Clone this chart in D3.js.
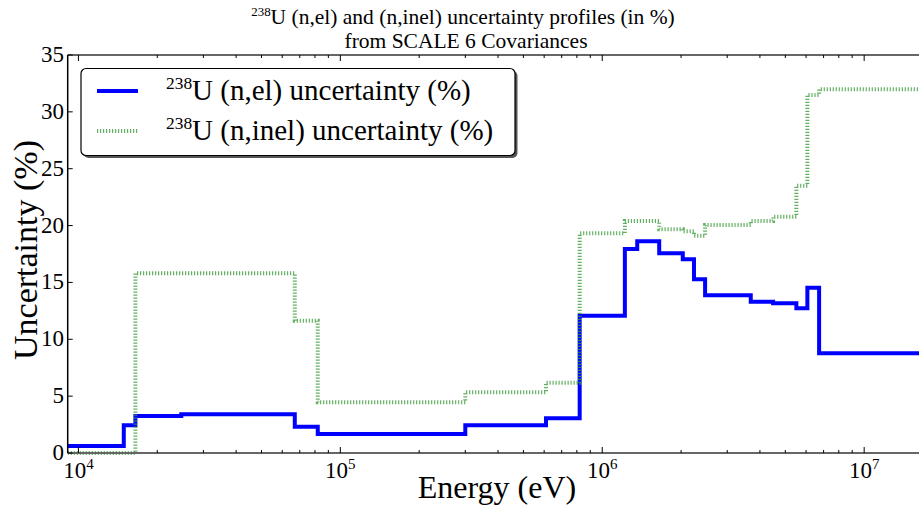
<html>
<head>
<script src="https://d3js.org/d3.v7.min.js"></script>
<style>
body { margin: 0; background: #fff; }
svg text { font-family: "Liberation Serif", "DejaVu Serif", serif; fill: #000; }
</style>
</head>
<body>
<svg width="919" height="511"></svg>
<script>

// energy group boundaries (eV) and the value of each group (%)
var energyEdges = [9.1e3, 1.49e4, 1.65e4, 2.47e4, 6.7e4, 8.2e4, 3.0e5, 6.1e5, 8.2e5, 1.22e6,
                   1.36e6, 1.65e6, 2.03e6, 2.24e6, 2.47e6, 3.69e6, 4.49e6, 5.51e6, 6.07e6, 6.73e6, 2e7];
var elUncert = [0.62, 2.43, 3.25, 3.40, 2.31, 1.66, 2.43, 3.05, 12.07, 17.94,
                18.62, 17.56, 17.03, 15.27, 13.87, 13.31, 13.17, 12.72, 14.54, 8.77];
var inelUncert = [0, 0, 15.80, 15.80, 11.64, 4.46, 5.34, 6.18, 19.32, 20.40,
                  20.40, 19.67, 19.50, 19.11, 20.05, 20.40, 20.78, 23.51, 31.49, 31.99];
var yTicks = [0, 5, 10, 15, 20, 25, 30, 35];
var xMajor = [1e4, 1e5, 1e6, 1e7];

var svg = d3.select("svg"),
    pLeft = 67.7, pRight = 943, pTop = 55, pBottom = 453;

var x = d3.scaleLog().domain([9.1e3, 2e7]).range([pLeft, pRight]),
    y = d3.scaleLinear().domain([0, 35]).range([pBottom, pTop]);

function steps(vals) {
  var pts = vals.map(function(v, i) { return [energyEdges[i], v]; });
  pts.push([energyEdges[energyEdges.length - 1], vals[vals.length - 1]]);
  return pts;
}

var line = d3.line()
    .curve(d3.curveStepAfter)
    .x(function(d) { return x(d[0]); })
    .y(function(d) { return y(d[1]); });

svg.append("defs").append("clipPath")
    .attr("id", "clip")
  .append("rect")
    .attr("x", pLeft).attr("y", pTop - 3)
    .attr("width", pRight - pLeft).attr("height", pBottom - pTop + 6);

// lines
var plot = svg.append("g").attr("clip-path", "url(#clip)");
plot.append("path")
    .datum(steps(elUncert))
    .attr("fill", "none")
    .attr("stroke", "#0000ff")
    .attr("stroke-width", 4)
    .attr("d", line);
plot.append("path")
    .datum(steps(inelUncert))
    .attr("fill", "none")
    .attr("stroke", "#3c9c3c")
    .attr("stroke-opacity", 0.8)
    .attr("stroke-width", 4)
    .attr("stroke-dasharray", "1.2,1.8")
    .attr("d", line);

// spines
svg.append("line").attr("x1", pLeft).attr("x2", 919).attr("y1", pTop).attr("y2", pTop)
    .attr("stroke", "#666").attr("stroke-width", 2);
svg.append("line").attr("x1", pLeft).attr("x2", 919).attr("y1", pBottom).attr("y2", pBottom)
    .attr("stroke", "#666").attr("stroke-width", 2);
svg.append("line").attr("x1", pLeft).attr("x2", pLeft).attr("y1", pTop).attr("y2", pBottom)
    .attr("stroke", "#000").attr("stroke-width", 1.5);

// x ticks (inward, bottom and top)
var xMinor = [];
[1e3, 1e4, 1e5, 1e6, 1e7].forEach(function(d) {
  for (var k = 2; k < 10; k++) {
    var v = k * d;
    if (v > 9.1e3 && v < 2e7) xMinor.push(v);
  }
});
var tickG = svg.append("g");
xMajor.forEach(function(v) {
  tickG.append("line").attr("x1", x(v)).attr("x2", x(v)).attr("y1", pBottom).attr("y2", pBottom - 6)
      .attr("stroke", "#000");
  tickG.append("line").attr("x1", x(v)).attr("x2", x(v)).attr("y1", pTop).attr("y2", pTop + 6)
      .attr("stroke", "#000");
});
xMinor.forEach(function(v) {
  tickG.append("line").attr("x1", x(v)).attr("x2", x(v)).attr("y1", pBottom).attr("y2", pBottom - 3)
      .attr("stroke", "#000");
  tickG.append("line").attr("x1", x(v)).attr("x2", x(v)).attr("y1", pTop).attr("y2", pTop + 3)
      .attr("stroke", "#000");
});

var xLab = svg.append("g").selectAll("text")
    .data(xMajor)
  .enter().append("text")
    .attr("x", function(d) { return x(d); })
    .attr("y", 478)
    .attr("text-anchor", "middle")
    .style("font-size", "23px");
xLab.append("tspan").text("10");
xLab.append("tspan")
    .attr("dy", -9)
    .style("font-size", "15px")
    .text(function(d) { return Math.round(Math.log10(d)); });

// y ticks
yTicks.forEach(function(v) {
  tickG.append("line").attr("x1", pLeft).attr("x2", pLeft + 5).attr("y1", y(v)).attr("y2", y(v))
      .attr("stroke", "#000");
});
svg.append("g").selectAll("text")
    .data(yTicks)
  .enter().append("text")
    .attr("x", 64)
    .attr("y", function(d) { return y(d) + 7; })
    .attr("text-anchor", "end")
    .style("font-size", "23px")
    .text(function(d) { return d; });

// axis labels
svg.append("text")
    .attr("x", 497)
    .attr("y", 498)
    .attr("text-anchor", "middle")
    .style("font-size", "32px")
    .text("Energy (eV)");
svg.append("text")
    .attr("transform", "translate(37,250) rotate(-90)")
    .attr("text-anchor", "middle")
    .style("font-size", "34px")
    .text("Uncertainty (%)");

// title
function isoText(sel, size, rest) {
  sel.append("tspan").attr("dy", -size * 0.38).style("font-size", (size * 0.6) + "px").text("238");
  sel.append("tspan").attr("dy", size * 0.38).style("font-size", size + "px").text(rest);
}
var t1 = svg.append("text").attr("x", 463).attr("y", 24).attr("text-anchor", "middle");
isoText(t1, 21.5, "U (n,el) and (n,inel) uncertainty profiles (in %)");
svg.append("text")
    .attr("x", 466).attr("y", 48)
    .attr("text-anchor", "middle")
    .style("font-size", "21.5px")
    .text("from SCALE 6 Covariances");

// legend
var legend = svg.append("g");
legend.append("rect")
    .attr("x", 83.5).attr("y", 71).attr("width", 434).attr("height", 87).attr("rx", 5)
    .attr("fill", "#555");
legend.append("rect")
    .attr("x", 81).attr("y", 68.5).attr("width", 434).attr("height", 87).attr("rx", 5)
    .attr("fill", "#fff").attr("stroke", "#000").attr("stroke-width", 1.2);

var legendItems = [
  {label: "U (n,el) uncertainty (%)", color: "#0000ff", dash: null, op: 1, ly: 91},
  {label: "U (n,inel) uncertainty (%)", color: "#3c9c3c", dash: "1.2,1.8", op: 0.8, ly: 131}
];
legendItems.forEach(function(d) {
  legend.append("line")
      .attr("x1", 97).attr("x2", 138).attr("y1", d.ly).attr("y2", d.ly)
      .attr("stroke", d.color).attr("stroke-width", 4)
      .attr("stroke-opacity", d.op)
      .attr("stroke-dasharray", d.dash);
  var t = legend.append("text").attr("x", 166).attr("y", d.ly + 9);
  isoText(t, 29, d.label);
});

</script>
</body>
</html>
